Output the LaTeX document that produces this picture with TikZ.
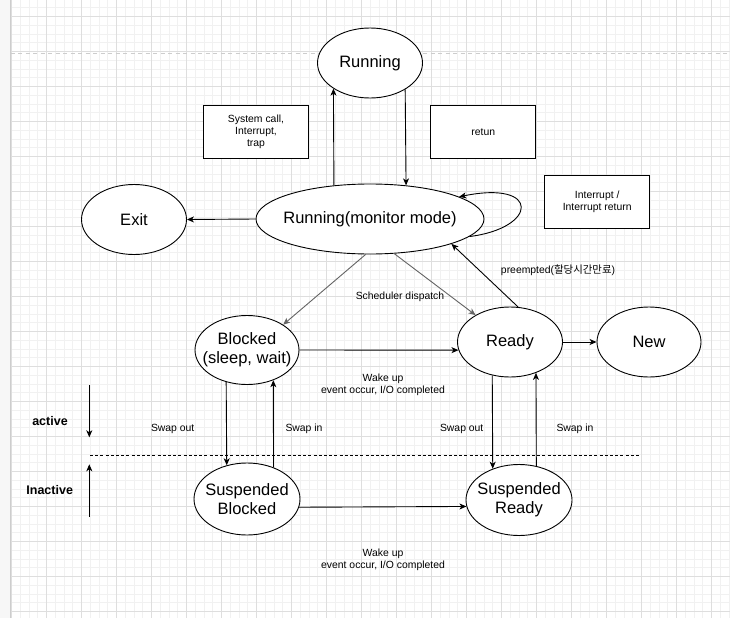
\documentclass[tikz,border=0pt]{standalone}
\usepackage{fontspec}
\setmainfont{Liberation Sans}
\newfontfamily\krfont{Noto Sans CJK KR}
\usepackage{tikz}
\usetikzlibrary{shapes.geometric,arrows.meta}
\definecolor{gridmajor}{RGB}{222,222,222}
\definecolor{gridminor}{RGB}{241,241,241}
\definecolor{pageline}{RGB}{205,205,205}
\definecolor{dispatchgray}{RGB}{100,100,100}

\begin{document}
\begin{tikzpicture}[x=1pt,y=-1pt,
    state/.style={draw, ellipse, line width=0.9pt, fill=white, inner sep=0pt, inner xsep=-12pt,
      minimum width=105pt, minimum height=70pt, align=center, font=\fontsize{16.5}{19.4}\selectfont},
    infobox/.style={draw, rectangle, line width=0.9pt, fill=white, minimum width=105pt,
      minimum height=53pt, align=center, font=\fontsize{10.4}{12.3}\selectfont},
    lbl/.style={align=center, font=\fontsize{10.4}{12.3}\selectfont},
    side/.style={font=\bfseries\fontsize{12.5}{15}\selectfont},
    arr/.style={-{Stealth[length=7pt,width=6pt,inset=2pt]}, line width=0.9pt},
    dispatch/.style={draw=dispatchgray}]
						\useasboundingbox (0,0) rectangle (730,618);
						
						% canvas grid
						\fill[white] (0,0) rectangle (730,618);
						\fill[black!3] (0,0) rectangle (10.5,618);
						\foreach \i in {0,...,82}
						  \draw[gridminor, line width=1pt] ({11.7+8.75*\i},0) -- ({11.7+8.75*\i},618);
						\foreach \j in {0,...,69}
						  \draw[gridminor, line width=1pt] (11.7,{7.95+8.75*\j}) -- (730,{7.95+8.75*\j});
						\foreach \i in {0,...,20}
						  \draw[gridmajor, line width=1pt] ({11.7+35*\i},0) -- ({11.7+35*\i},618);
						\foreach \j in {0,...,17}
						  \draw[gridmajor, line width=1pt] (11.7,{16.7+35*\j}) -- (730,{16.7+35*\j});
						\draw[pageline, line width=1pt] (10.5,0) -- (10.5,618);
						\draw[pageline, line width=1.5pt, dash pattern=on 4pt off 3.5pt] (10.5,53.5) -- (730,53.5);
						
						% states
						\node[state] (run) at (370,63) {Running};
						\node[state, minimum width=228pt] (mon) at (370,219) {Running(monitor mode)};
						\node[state] (ext) at (134,219.5) {Exit};
						\node[state, minimum width=104pt, minimum height=69pt] (blk) at (247,350) {Blocked\\(sleep, wait)};
						\node[state] (rdy) at (510,342) {Ready};
						\node[state, minimum width=104pt] (new) at (649,342) {New};
						\node[state, minimum width=106pt, minimum height=72pt] (sbk) at (247,499) {Suspended\\Blocked};
						\node[state, minimum width=106pt, minimum height=71pt] (srd) at (519,500) {Suspended\\Ready};
						
						% notes
						\node[infobox] (sysbox) at (256,131.7) {System call,\\Interrupt,\\trap};
						\node[infobox] (retbox) at (483.3,131.7) {retun};
						\node[infobox] (irqbox) at (597.2,201.7) {Interrupt /\\Interrupt return};
						
						% transitions
						\draw[arr] (mon.137.3) -- (run.215.3);
						\draw[arr] (run.323.3) -- (mon.43.6);
						\draw[arr] (mon.west) -- (ext.east);
						\draw[arr] (mon.350.1) .. controls (538,228) and (541,180) .. (mon.14.3);
						\draw[arr] (rdy.77) -- (mon.343.7);
						\draw[arr, dispatch] (mon.263.5) -- (blk.35.4);
						\draw[arr, dispatch] (mon.305.1) -- (rdy.142.4);
						\draw[arr] (blk.east) -- (rdy.189.5);
						\draw[arr] (rdy.east) -- (new.west);
						\draw[arr] (blk.237.4) -- (sbk.121.4);
						\draw[arr] (sbk.50) -- (blk.311.4);
						\draw[arr] (rdy.242.3) -- (srd.130.5);
						\draw[arr] (srd.63.2) -- (rdy.310.5);
						\draw[arr] (sbk.351.2) -- (srd.187.7);
						
						% edge labels
						\node[lbl] (preempt) at (558,270) {preempted({\krfont 할당시간만료})};
						\node[lbl] (sched) at (400,297.3) {Scheduler dispatch};
						\node[lbl] (wakeA) at (383,385) {Wake up\\event occur, I/O completed};
						\node[lbl] (wakeB) at (383,560) {Wake up\\event occur, I/O completed};
						\node[lbl] (soutL) at (172.7,429.3) {Swap out};
						\node[lbl] (sinL) at (304,429.3) {Swap in};
						\node[lbl] (soutR) at (461.7,429.3) {Swap out};
						\node[lbl] (sinR) at (575,429.3) {Swap in};
						
						% active / inactive split
						\coordinate (divL) at (90,455);
						\coordinate (divR) at (641,455);
						\draw[line width=0.8pt, dash pattern=on 3pt off 2.2pt] (divL) -- (divR);
						\coordinate (actTop) at (89.3,385);
						\coordinate (actBot) at (89.3,437.3);
						\coordinate (inaBot) at (89.3,516.7);
						\coordinate (inaTop) at (89.3,464.3);
						\draw[arr] (actTop) -- (actBot);
						\draw[arr] (inaBot) -- (inaTop);
						\node[side] (act) at (50,420.7) {active};
						\node[side] (inact) at (49.7,490) {Inactive};
					\end{tikzpicture}
\end{document}
